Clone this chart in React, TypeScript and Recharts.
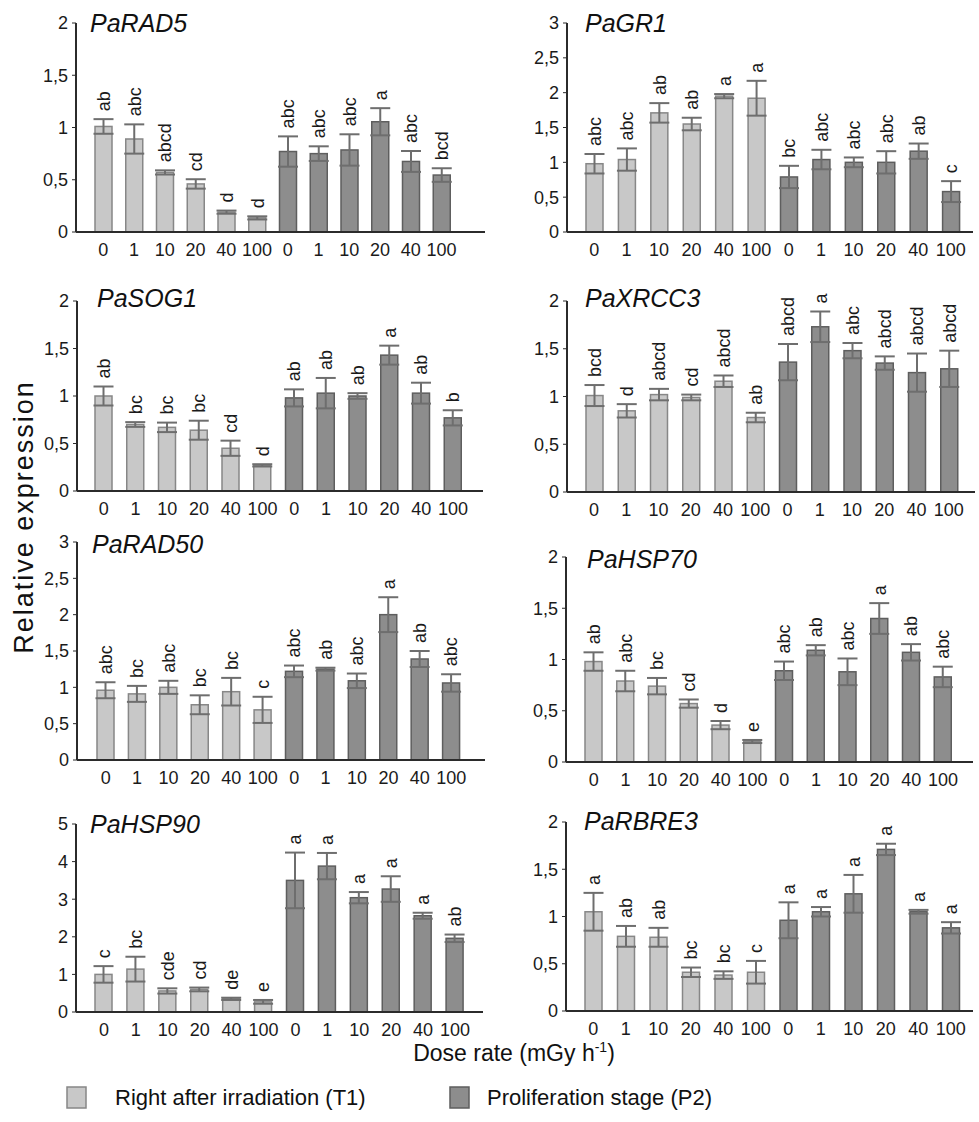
import React from 'react';
import { BarChart, Bar, XAxis, YAxis, ErrorBar, Text } from 'recharts';

const FONT = '"Liberation Sans", Arial, Helvetica, sans-serif';

const doses = ['0', '1', '10', '20', '40', '100'];
const stages = ['T1', 'P2'];

// relative expression, SE and significance letters (T1 x6, then P2 x6)
const rad5Mean = [1.01, 0.89, 0.57, 0.46, 0.19, 0.135, 0.77, 0.75, 0.785, 1.055, 0.675, 0.545];
const rad5Err = [0.07, 0.14, 0.02, 0.045, 0.015, 0.015, 0.145, 0.07, 0.15, 0.13, 0.1, 0.065];
const rad5Sig = ['ab', 'abc', 'abcd', 'cd', 'd', 'd', 'abc', 'abc', 'abc', 'a', 'abc', 'bcd'];

const gr1Mean = [0.98, 1.04, 1.71, 1.55, 1.95, 1.92, 0.79, 1.04, 1.0, 1.0, 1.16, 0.58];
const gr1Err = [0.14, 0.16, 0.14, 0.09, 0.03, 0.25, 0.16, 0.14, 0.07, 0.16, 0.11, 0.15];
const gr1Sig = ['abc', 'abc', 'ab', 'ab', 'a', 'a', 'bc', 'abc', 'abc', 'abc', 'ab', 'c'];

const sog1Mean = [1.0, 0.7, 0.67, 0.64, 0.45, 0.27, 0.98, 1.03, 1.0, 1.43, 1.03, 0.77];
const sog1Err = [0.1, 0.025, 0.05, 0.1, 0.08, 0.012, 0.09, 0.16, 0.03, 0.1, 0.11, 0.08];
const sog1Sig = ['ab', 'bc', 'bc', 'bc', 'cd', 'd', 'ab', 'ab', 'ab', 'a', 'ab', 'b'];

const xrcc3Mean = [1.01, 0.85, 1.02, 0.99, 1.16, 0.78, 1.36, 1.73, 1.48, 1.35, 1.25, 1.29];
const xrcc3Err = [0.11, 0.07, 0.06, 0.03, 0.06, 0.05, 0.19, 0.16, 0.08, 0.07, 0.2, 0.19];
const xrcc3Sig = ['bcd', 'd', 'abcd', 'cd', 'abcd', 'ab', 'abcd', 'a', 'abc', 'abcd', 'abcd', 'abcd'];

const rad50Mean = [0.96, 0.91, 1.0, 0.76, 0.94, 0.69, 1.22, 1.25, 1.09, 2.0, 1.39, 1.06];
const rad50Err = [0.11, 0.11, 0.09, 0.13, 0.19, 0.18, 0.08, 0.02, 0.1, 0.24, 0.11, 0.12];
const rad50Sig = ['abc', 'bc', 'abc', 'bc', 'bc', 'c', 'abc', 'ab', 'abc', 'a', 'ab', 'abc'];

const hsp70Mean = [0.98, 0.79, 0.74, 0.57, 0.36, 0.2, 0.89, 1.09, 0.88, 1.4, 1.07, 0.83];
const hsp70Err = [0.09, 0.1, 0.08, 0.04, 0.04, 0.015, 0.09, 0.05, 0.13, 0.15, 0.08, 0.1];
const hsp70Sig = ['ab', 'abc', 'bc', 'cd', 'd', 'e', 'abc', 'ab', 'abc', 'a', 'ab', 'abc'];

const hsp90Mean = [1.0, 1.14, 0.56, 0.6, 0.35, 0.27, 3.5, 3.88, 3.04, 3.27, 2.56, 1.96];
const hsp90Err = [0.22, 0.33, 0.07, 0.05, 0.03, 0.05, 0.74, 0.35, 0.15, 0.34, 0.08, 0.1];
const hsp90Sig = ['c', 'bc', 'cde', 'cd', 'de', 'e', 'a', 'a', 'a', 'a', 'a', 'ab'];

const rbre3Mean = [1.05, 0.79, 0.78, 0.41, 0.38, 0.41, 0.96, 1.05, 1.24, 1.71, 1.05, 0.88];
const rbre3Err = [0.2, 0.11, 0.1, 0.05, 0.04, 0.12, 0.19, 0.05, 0.2, 0.06, 0.02, 0.06];
const rbre3Sig = ['a', 'ab', 'ab', 'bc', 'bc', 'c', 'a', 'a', 'a', 'a', 'a', 'a'];

const ticks2 = [0, 0.5, 1, 1.5, 2];
const ticks3 = [0, 0.5, 1, 1.5, 2, 2.5, 3];
const ticks5 = [0, 1, 2, 3, 4, 5];

// layout of each panel on the page
const panels = [
  { gene: 'PaRAD5', mean: rad5Mean, err: rad5Err, sig: rad5Sig, max: 2, ticks: ticks2, axisX: 76, axisEnd: 485, first: 103, last: 442, top: 23, zero: 232, tx: 90, ty: 32 },
  { gene: 'PaGR1', mean: gr1Mean, err: gr1Err, sig: gr1Sig, max: 3, ticks: ticks3, axisX: 567, axisEnd: 973, first: 594, last: 951, top: 23, zero: 232, tx: 585, ty: 32 },
  { gene: 'PaSOG1', mean: sog1Mean, err: sog1Err, sig: sog1Sig, max: 2, ticks: ticks2, axisX: 77, axisEnd: 483, first: 104, last: 453, top: 301, zero: 491, tx: 97, ty: 307 },
  { gene: 'PaXRCC3', mean: xrcc3Mean, err: xrcc3Err, sig: xrcc3Sig, max: 2, ticks: ticks2, axisX: 567, axisEnd: 975, first: 594, last: 949, top: 301, zero: 492, tx: 585, ty: 307 },
  { gene: 'PaRAD50', mean: rad50Mean, err: rad50Err, sig: rad50Sig, max: 3, ticks: ticks3, axisX: 77, axisEnd: 485, first: 106, last: 451, top: 542, zero: 760, tx: 92, ty: 553 },
  { gene: 'PaHSP70', mean: hsp70Mean, err: hsp70Err, sig: hsp70Sig, max: 2, ticks: ticks2, axisX: 566, axisEnd: 973, first: 594, last: 943, top: 557, zero: 762, tx: 587, ty: 568 },
  { gene: 'PaHSP90', mean: hsp90Mean, err: hsp90Err, sig: hsp90Sig, max: 5, ticks: ticks5, axisX: 76, axisEnd: 483, first: 104, last: 455, top: 824, zero: 1012, tx: 90, ty: 833 },
  { gene: 'PaRBRE3', mean: rbre3Mean, err: rbre3Err, sig: rbre3Sig, max: 2, ticks: ticks2, axisX: 566, axisEnd: 973, first: 593, last: 951, top: 822, zero: 1011, tx: 584, ty: 830 },
];

const LIGHT = '#c8c8c8';
const LIGHT_EDGE = '#878787';
const DARK = '#8d8d8d';
const DARK_EDGE = '#5e5e5e';

function Panel({ p }: any) {
  const LEFT = 60, TOP = 30, BOTTOM = 34, RIGHT = 4;
  const spacing = (p.last - p.first) / 11;
  const plotW = p.axisEnd - p.axisX;
  const plotH = p.zero - p.top;
  const padL = Math.round(p.first - spacing / 2 - p.axisX);
  const padR = Math.round(p.axisEnd - (p.last + spacing / 2));
  const pxPerUnit = plotH / p.max;

  const data = stages.flatMap((s, si) =>
    doses.map((d, di) => {
      const i = si * 6 + di;
      return { key: `${s}-${d}`, dose: d, stage: s, mean: p.mean[i], err: p.err[i], sig: p.sig[i] };
    })
  );

  // bar rect plus its rotated significance letters above the error bar
  const BarShape = (props: any) => {
    const { x, y, width, height, payload } = props;
    const light = payload.stage === 'T1';
    const cx = x + width / 2;
    const ly = y - payload.err * pxPerUnit - 8;
    return (
      <g>
        <rect
          x={x}
          y={y}
          width={width}
          height={height}
          fill={light ? LIGHT : DARK}
          stroke={light ? LIGHT_EDGE : DARK_EDGE}
          strokeWidth={1.5}
        />
        <Text
          x={cx}
          y={ly}
          angle={-90}
          textAnchor="start"
          verticalAnchor="middle"
          fontSize={18}
          fill="#1a1a1a"
        >
          {payload.sig}
        </Text>
      </g>
    );
  };

  return (
    <div style={{ position: 'absolute', left: p.axisX - LEFT, top: p.top - TOP }}>
      <BarChart
        width={LEFT + plotW + RIGHT}
        height={TOP + plotH + BOTTOM}
        data={data}
        margin={{ top: TOP, right: RIGHT, bottom: 0, left: 0 }}
      >
        <XAxis
          dataKey="key"
          height={BOTTOM}
          interval={0}
          padding={{ left: padL, right: padR }}
          tickFormatter={(v: string) => v.split('-')[1]}
          tickLine={false}
          tickSize={0}
          tickMargin={11}
          axisLine={{ stroke: '#2b2b2b', strokeWidth: 2 }}
          tick={{ fontSize: 18, fill: '#1a1a1a' }}
        />
        <YAxis
          width={LEFT}
          domain={[0, p.max]}
          ticks={p.ticks}
          interval={0}
          tickFormatter={(v: number) => String(v).replace('.', ',')}
          tickSize={4}
          tickMargin={4}
          tickLine={{ stroke: '#2b2b2b' }}
          axisLine={{ stroke: '#2b2b2b', strokeWidth: 2 }}
          tick={{ fontSize: 18, fill: '#1a1a1a' }}
        />
        <Bar dataKey="mean" barSize={17} shape={BarShape} isAnimationActive={false}>
          <ErrorBar dataKey="err" width={10} stroke="#6e6e6e" strokeWidth={2} isAnimationActive={false} />
        </Bar>
      </BarChart>
    </div>
  );
}

export default function App() {
  return (
    <div
      style={{
        position: 'absolute',
        left: 0,
        top: 0,
        width: 979,
        height: 1122,
        background: '#fff',
        fontFamily: FONT,
        overflow: 'hidden',
      }}
    >
      {panels.map((p) => (
        <Panel key={p.gene} p={p} />
      ))}
      <svg
        width={979}
        height={1122}
        style={{ position: 'absolute', left: 0, top: 0, pointerEvents: 'none', fontFamily: FONT }}
      >
        {panels.map((p) => (
          <text key={p.gene} x={p.tx} y={p.ty} fontSize={25} fontStyle="italic" fill="#111">
            {p.gene}
          </text>
        ))}
        <text
          x={33}
          y={517}
          transform="rotate(-90 33 517)"
          textAnchor="middle"
          fontSize={27}
          letterSpacing={2}
          fill="#111"
        >
          Relative expression
        </text>
        <text x={514} y={1061} textAnchor="middle" fontSize={23} fill="#111">
          Dose rate (mGy h
          <tspan fontSize={14} dy={-9}>-1</tspan>
          <tspan dy={9}>)</tspan>
        </text>
        <rect x={67} y={1087} width={19} height={21} fill={LIGHT} stroke={LIGHT_EDGE} strokeWidth={1.5} />
        <text x={115} y={1105} fontSize={22} fill="#111">
          Right after irradiation (T1)
        </text>
        <rect x={450} y={1087} width={19} height={21} fill={DARK} stroke={DARK_EDGE} strokeWidth={1.5} />
        <text x={487} y={1105} fontSize={22} fill="#111">
          Proliferation stage (P2)
        </text>
      </svg>
    </div>
  );
}
